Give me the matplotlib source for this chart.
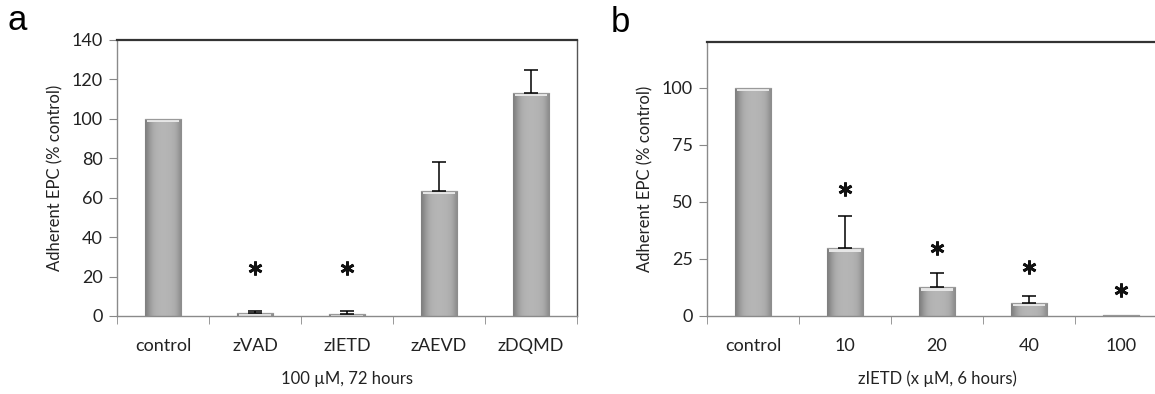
import numpy as np
import matplotlib
matplotlib.use("Agg")
import matplotlib.pyplot as plt
from matplotlib.ticker import FixedLocator

plt.rcParams['font.family'] = ['Lato', 'DejaVu Sans']

# ---- data ----
cats_a = ["control", "zVAD", "zIETD", "zAEVD", "zDQMD"]
vals_a = [100, 1.5, 1.0, 63.5, 113.3]
err_a = [0, 0.8, 1.3, 14.5, 11.5]
star_a = [None, 24.5, 24.5, None, None]
yticks_a = [0, 20, 40, 60, 80, 100, 120, 140]

cats_b = ["control", "10", "20", "40", "100"]
vals_b = [100, 29.6, 12.6, 5.8, 0.5]
err_b = [0, 14.1, 6.2, 3.1, 0]
star_b = [None, 55.5, 30.0, 21.5, 11.4]
yticks_b = [0, 25, 50, 75, 100]

W, H = 1155, 394
fig = plt.figure(figsize=(W / 100, H / 100), dpi=100)

BAR_W = 0.4
grad = np.array([0.50, 0.58, 0.64, 0.68, 0.70, 0.71, 0.71, 0.71, 0.71, 0.70, 0.69, 0.67, 0.62, 0.55])


def panel(rect, cats, vals, errs, stars, yticks, ymax, xlabel, letter, letter_xy):
    ax = fig.add_axes(rect)
    x = np.arange(len(cats))
    bars = ax.bar(x, vals, width=BAR_W, color="#a9a9a9", edgecolor="#8a8a8a",
                  linewidth=0.8, zorder=2)
    for b in bars:
        x0, y0 = b.get_x(), b.get_y()
        w, h = b.get_width(), b.get_height()
        if h <= 0:
            continue
        im = ax.imshow(np.tile(grad[None, :, None], (1, 1, 3)),
                       extent=[x0, x0 + w, y0, y0 + h], aspect="auto",
                       interpolation="bicubic", zorder=2.1)
        im.set_clip_path(b)
        bev = min(h, ymax * 0.012)
        ax.fill_between([x0 + w * 0.06, x0 + w * 0.94], y0 + h - bev, y0 + h,
                        color="#e6e6e6", zorder=2.2, linewidth=0)
        ax.plot([x0, x0 + w], [y0 + h, y0 + h], color="#9a9a9a", lw=0.8, zorder=2.3)
    ex = [xi for xi, e in zip(x, errs) if e > 0]
    ey = [v for v, e in zip(vals, errs) if e > 0]
    ee = [e for e in errs if e > 0]
    ax.errorbar(ex, ey, yerr=[np.zeros(len(ee)), ee], fmt="none", ecolor="black",
                elinewidth=1.1, capsize=5, capthick=1.1, zorder=3)
    sx = [xi for xi, s in zip(x, stars) if s is not None]
    sy = [s for s in stars if s is not None]
    ax.plot(sx, sy, linestyle="none", marker=(6, 2, 0), markersize=10,
            markeredgewidth=2.0, color="#111111", zorder=4)
    ax.set_xlim(-0.5, len(cats) - 0.5)
    ax.set_ylim(0, ymax)
    ax.set_yticks(yticks)
    ax.set_yticklabels([str(t) for t in yticks], fontsize=13, color="#222222")
    ax.set_xticks(x)
    ax.set_xticklabels(cats, fontsize=13, color="#222222")
    ax.tick_params(axis="x", which="major", length=0, pad=16)
    ax.xaxis.set_minor_locator(FixedLocator(np.arange(len(cats) + 1) - 0.5))
    ax.tick_params(axis="x", which="minor", length=6, color="#888888", direction="out")
    ax.tick_params(axis="y", length=6, color="#888888", direction="out", pad=4)
    for s in ["left", "bottom"]:
        ax.spines[s].set_color("#8a8a8a")
        ax.spines[s].set_linewidth(1.0)
    ax.spines["top"].set_color("#333333")
    ax.spines["top"].set_linewidth(1.6)
    ax.spines["right"].set_color("#555555")
    ax.spines["right"].set_linewidth(1.0)
    ax.set_ylabel("Adherent EPC (% control)", fontsize=12, color="#222222", labelpad=6)
    ax.set_xlabel(xlabel, fontsize=12, color="#222222", labelpad=12)
    fig.text(letter_xy[0] / W, 1 - letter_xy[1] / H, letter, fontsize=25,
             family=["Liberation Sans", "DejaVu Sans"],
             ha="center", va="center", color="black")
    return ax


ax_a = panel([117 / W, (H - 316) / H, 460 / W, 276 / H], cats_a, vals_a, err_a,
             star_a, yticks_a, 140, "100 \u00b5M, 72 hours", "a", (17, 20))
ax_b = panel([707 / W, (H - 316) / H, 460 / W, 274 / H], cats_b, vals_b, err_b,
             star_b, yticks_b, 120, "zIETD (x \u00b5M, 6 hours)", "b", (620, 22))

fig.savefig("out.png", dpi=100)
